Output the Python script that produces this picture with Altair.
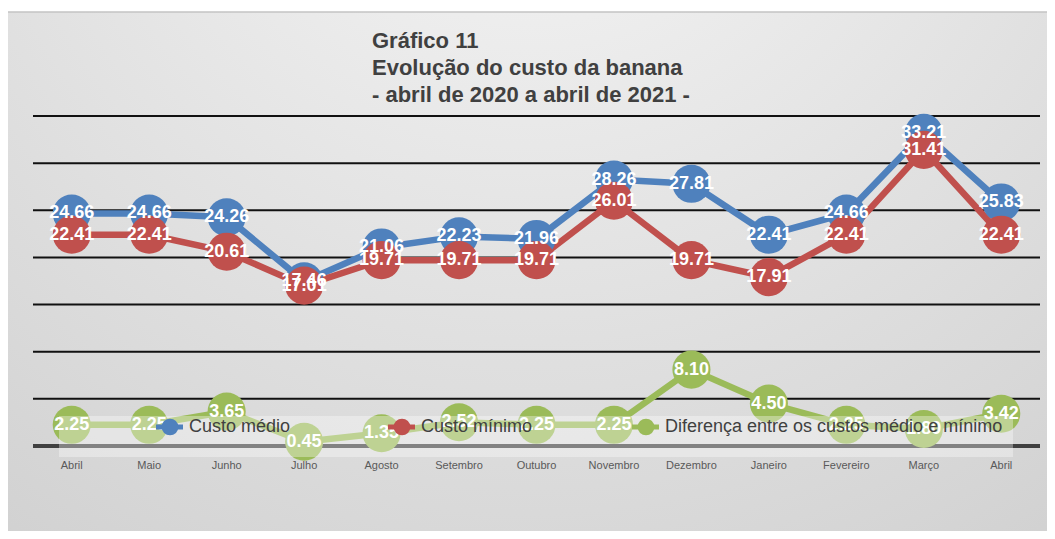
import altair as alt
import pandas as pd

# ---------------- data ----------------
months = ["Abril", "Maio", "Junho", "Julho", "Agosto", "Setembro", "Outubro",
          "Novembro", "Dezembro", "Janeiro", "Fevereiro", "Março", "Abril"]
custo_medio = [24.66, 24.66, 24.26, 17.46, 21.06, 22.23, 21.96, 28.26, 27.81, 22.41, 24.66, 33.21, 25.83]
custo_minimo = [22.41, 22.41, 20.61, 17.01, 19.71, 19.71, 19.71, 26.01, 19.71, 17.91, 22.41, 31.41, 22.41]
diferenca = [2.25, 2.25, 3.65, 0.45, 1.35, 2.52, 2.25, 2.25, 8.10, 4.50, 2.25, 1.80, 3.42]
series_names = ["Custo médio", "Custo mínimo", "Diferença entre os custos médio e mínimo"]
series_colors = ["#4F81BD", "#C0504D", "#9BBB59"]
grid_values = [5, 10, 15, 20, 25, 30, 35]
title_lines = ["Gráfico 11", "Evolução do custo da banana", "- abril de 2020 a abril de 2021 -"]

rows = []
for name, vals in zip(series_names, [custo_medio, custo_minimo, diferenca]):
    for i, (m, v) in enumerate(zip(months, vals)):
        rows.append({"serie": name, "idx": i, "mes": m, "valor": v})
df = pd.DataFrame(rows)
df_months = pd.DataFrame({"idx": list(range(len(months))), "mes": months})
df_grid = pd.DataFrame({"g": grid_values})
df_zero = pd.DataFrame({"z": [0]})
one = pd.DataFrame({"k": [0]})

# ---------------- layout ----------------
W, H = 1007, 330
F = "Liberation Sans, Arial, sans-serif"

x_scale = alt.Scale(type="point", padding=0.5)
y_scale = alt.Scale(domain=[0, 35], nice=False, zero=True)
c_scale = alt.Scale(domain=series_names, range=series_colors)
x_enc = alt.X("idx:O", scale=x_scale, axis=None)
y_enc = alt.Y("valor:Q", scale=y_scale, axis=None)
c_enc = alt.Color("serie:N", scale=c_scale, legend=None)

bg = alt.Chart(one).mark_rect(
    fill={"gradient": "radial",
          "stops": [{"offset": 0, "color": "#f8f8f8"}, {"offset": 1, "color": "#c9c9c9"}],
          "x1": 0.5, "y1": 0, "r1": 0, "x2": 0.5, "y2": 0, "r2": 1.1},
    stroke="#c4c4c4", strokeWidth=1.5,
).encode(x=alt.value(-27), x2=alt.value(W + 12), y=alt.value(-104), y2=alt.value(H + 95))

grid = alt.Chart(df_grid).mark_rule(color="#111111", strokeWidth=2).encode(
    y=alt.Y("g:Q", scale=y_scale, axis=None))

zero = alt.Chart(df_zero).mark_rule(color="#404040", strokeWidth=4).encode(
    y=alt.Y("z:Q", scale=y_scale, axis=None))

month_labels = alt.Chart(df_months).mark_text(
    fontSize=11, color="#595959", baseline="top", font=F
).encode(x=x_enc, y=alt.value(H + 14), text="mes:N")

lines = alt.Chart(df).mark_line(strokeWidth=6.5).encode(x=x_enc, y=y_enc, color=c_enc)
points = alt.Chart(df).mark_circle(size=1450, opacity=1).encode(x=x_enc, y=y_enc, color=c_enc)
labels = alt.Chart(df).mark_text(
    fontSize=18, fontWeight="bold", color="white", baseline="middle", font=F
).encode(x=x_enc, y=y_enc, text=alt.Text("valor:Q", format=".2f"))

overlay = alt.Chart(one).mark_rect(fill="white", opacity=0.35).encode(
    x=alt.value(26), x2=alt.value(980), y=alt.value(300), y2=alt.value(341))

legend_layers = []
leg_sym_x = [137, 369, 613]
LY = 311
for name, col, sx in zip(series_names, series_colors, leg_sym_x):
    legend_layers.append(alt.Chart(one).mark_rule(color=col, strokeWidth=5).encode(
        x=alt.value(sx - 14), x2=alt.value(sx + 13), y=alt.value(LY)))
    legend_layers.append(alt.Chart(one).mark_circle(color=col, size=280, opacity=1).encode(
        x=alt.value(sx), y=alt.value(LY)))
    legend_layers.append(alt.Chart(one).mark_text(
        align="left", baseline="middle", fontSize=18, color="#404040", font=F
    ).encode(x=alt.value(sx + 19), y=alt.value(LY), text=alt.value(name)))

title = alt.Chart(one).mark_text(
    align="left", baseline="alphabetic", fontSize=22, fontWeight="bold",
    color="#404040", lineHeight=27, font=F
).encode(x=alt.value(339), y=alt.value(-68), text=alt.value(title_lines))

chart = alt.layer(
    bg, grid, zero, month_labels, lines, points, labels, overlay, *legend_layers, title
).properties(
    width=W, height=H,
    padding={"left": 25, "top": 108, "right": 7, "bottom": 85},
    autosize=alt.AutoSizeParams(type="none"),
).configure_view(stroke=None)

chart.save("out.html", embed_options={"renderer": "svg", "actions": False})
